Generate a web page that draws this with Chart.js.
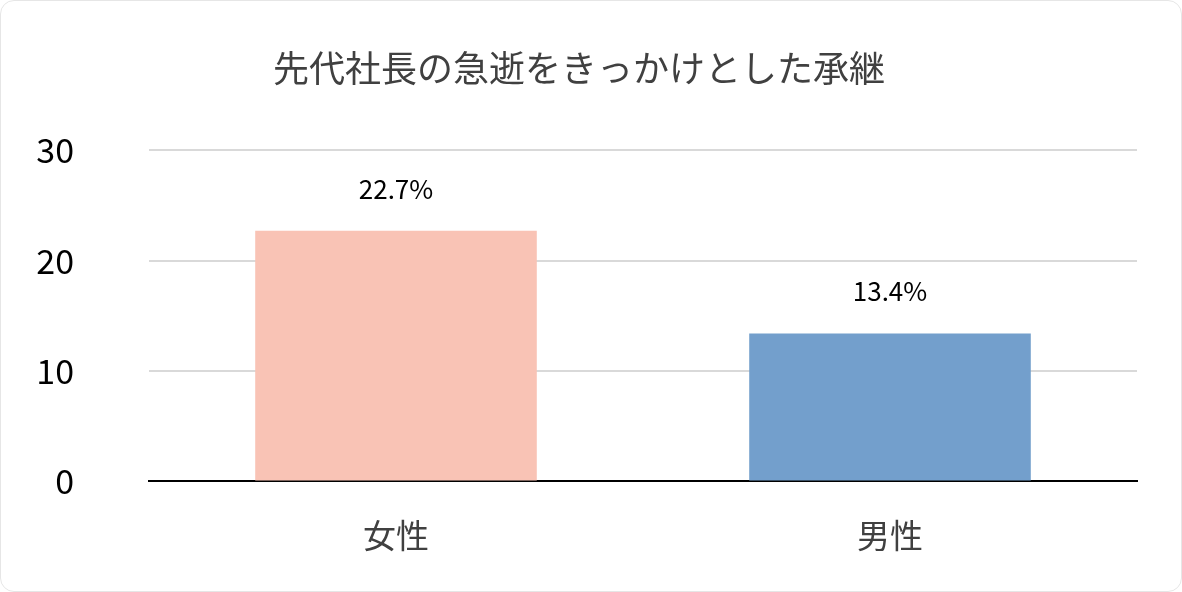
<!DOCTYPE html>
<html><head><meta charset="utf-8">
<script src="https://cdn.jsdelivr.net/npm/chart.js@4/dist/chart.umd.min.js"></script>
<style>html,body{margin:0;background:#fff}#w{width:1182px;height:592px;box-sizing:border-box;border:1px solid #e6e6e6;border-radius:14px}</style>
</head><body><div id="w"><canvas id="c" width="1180" height="590"></canvas></div>
<script>
const categories = ["女性", "男性"];
const values = [22.7, 13.4];
const valueLabels = ["22.7%", "13.4%"];
const yTicks = [0, 10, 20, 30];
const titleText = "先代社長の急逝をきっかけとした承継";
const F = "'Noto Sans CJK JP', 'Noto Sans', sans-serif";
const labelPlugin = {
  id: 'lbl',
  afterDatasetsDraw(chart) {
    const ctx = chart.ctx;
    const meta = chart.getDatasetMeta(0);
    ctx.save();
    ctx.font = "26px " + F;
    ctx.fillStyle = "#000";
    ctx.textAlign = "center";
    ctx.textBaseline = "middle";
    meta.data.forEach((b, i) => ctx.fillText(valueLabels[i], b.x, b.y - 42));
    ctx.restore();
  }
};
new Chart(document.getElementById('c'), {
  type: 'bar',
  data: { labels: categories, datasets: [{ data: values,
    backgroundColor: ['#F9C3B5', '#739FCC'], borderWidth: 0,
    categoryPercentage: 0.57, barPercentage: 1 }] },
  options: {
    responsive: false, animation: false,
    layout: { padding: { left: 20, right: 44, top: 10, bottom: 10 } },
    plugins: { legend: { display: false }, tooltip: { enabled: false },
      title: { display: true, text: titleText, color: '#404040',
        font: { family: F, size: 36, weight: 'normal' }, padding: { top: 36, bottom: 60 } } },
    scales: {
      x: { grid: { display: false }, border: { color: '#000', width: 2 },
        ticks: { color: '#404040', font: { family: F, size: 33 }, padding: 26 } },
      y: { min: 0, max: 30, afterBuildTicks: a => { a.ticks = yTicks.map(v => ({ value: v })); },
        afterFit: a => { a.width = 128; },
        grid: { color: '#d9d9d9', lineWidth: 2, drawTicks: false }, border: { display: false },
        ticks: { color: '#000', font: { family: F, size: 34 }, padding: 75 } }
    }
  },
  plugins: [labelPlugin]
});
</script></body></html>
